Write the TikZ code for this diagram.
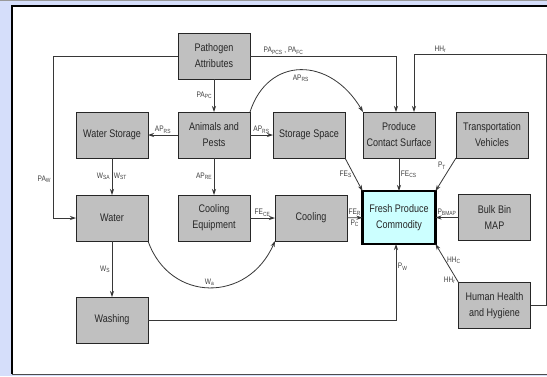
\documentclass[tikz,border=0pt]{standalone}
\usepackage{fontspec}
\setmainfont{Liberation Sans}[FakeStretch=0.82]
\usetikzlibrary{arrows.meta, positioning}
\definecolor{pagebg}{RGB}{213,222,250}
\definecolor{boxgray}{RGB}{192,192,192}
\definecolor{freshcyan}{RGB}{204,255,255}
\definecolor{linegray}{RGB}{55,55,55}

\begin{document}
\begin{tikzpicture}[x=1pt, y=-1pt, >={Stealth[length=6pt,width=4pt]}]
  \tikzstyle{block} = [rectangle, draw=black!85, fill=boxgray, minimum width=72pt, minimum height=46pt, inner sep=1pt, outer sep=0pt, align=center, font={\fontsize{11}{16}\selectfont}, text=black!85]
  \tikzstyle{target} = [block, fill=freshcyan, draw=black, line width=2.2pt, minimum width=73pt, minimum height=53pt]
  \tikzstyle{flow} = [->, draw=linegray, line width=0.8pt]
  \tikzstyle{lbl} = [font={\fontsize{8}{9}\selectfont}, text=black!75, inner sep=1.5pt]

  \useasboundingbox (0,0) rectangle (547,376);
  \fill[pagebg] (0,0) rectangle (547,376);
  \draw[black!40, line width=1pt] (0,0.5) -- (547,0.5);
  \fill[white] (12,6) rectangle (547,374);
  \draw[line width=2pt] (12,374) -- (12,6) -- (547,6);
  \draw[black!70, line width=1pt] (12,374) -- (547,374);

  \node[block] (animals) at (214,135) {Animals and\\Pests};
  \node[block, above=33pt of animals] (pathogen) {Pathogen\\Attributes};
  \node[block, left=30pt of animals] (wstore) {Water Storage};
  \node[block, right=23pt of animals] (storage) {Storage Space};
  \node[block, right=18pt of storage] (contact) {Produce\\Contact Surface};
  \node[block, right=21pt of contact] (vehicles) {Transportation\\Vehicles};

  \node[block, below=37pt of wstore] (water) {Water};
  \node[block, below=37pt of animals] (cooleq) {Cooling\\Equipment};
  \node[block, right=25pt of cooleq] (cooling) {Cooling};
  \node[target, below=33pt of contact] (fresh) {Fresh Produce\\Commodity};
  \node[block, right=23pt of fresh] (bulk) {Bulk Bin\\MAP};

  \node[block, below=56pt of water] (washing) {Washing};
  \node[block, below=42pt of bulk] (human) {Human Health\\and Hygiene};

  \coordinate (ltop) at (53,56);
  \coordinate (rtop) at (546,54);

  \draw[flow] (pathogen) -- node[lbl, left] {PA\textsubscript{PC}} (animals);
  \draw[flow] (pathogen.west) -- (ltop) |- node[lbl, left, pos=0.38] {PA\textsubscript{W}} (water.west);
  \draw[flow] (pathogen.east) -| node[lbl, above, pos=0.115] {PA\textsubscript{PCS} , PA\textsubscript{FC}} ([xshift=-3pt]contact.north);
  \draw[flow] (animals) -- node[lbl, above] {AP\textsubscript{RS}} (wstore);
  \draw[flow] (animals) -- node[lbl, above] {AP\textsubscript{RS}} (storage);
  \draw[flow] (animals) -- node[lbl, left] {AP\textsubscript{RE}} (cooleq);
  \draw[flow] (animals.north east) .. controls (268,56) and (330,56) .. node[lbl, below=3pt] {AP\textsubscript{RS}} (contact.north west);
  \draw[flow] (wstore) -- node[lbl, left] {W\textsubscript{SA}} node[lbl, right] {W\textsubscript{ST}} (water);
  \draw[flow] (cooleq) -- node[lbl, above] {FE\textsubscript{CE}} (cooling);
  \draw[flow] (cooling) -- node[lbl, above] {FE\textsubscript{R}} node[lbl, below] {P\textsubscript{C}} (fresh);
  \draw[flow] (storage.south east) -- node[lbl, left] {FE\textsubscript{S}} (fresh.north west);
  \draw[flow] (contact) -- node[lbl, right] {FE\textsubscript{CS}} (fresh);
  \draw[flow] (vehicles.south west) -- node[lbl, above left, pos=0.4] {P\textsubscript{T}} (fresh.north east);
  \draw[flow] (bulk) -- node[lbl, above] {P\textsubscript{BMAP}} (fresh);
  \draw[flow] (human.north west) -- node[lbl, right, pos=0.58] {HH\textsubscript{C}} node[lbl, left, pos=0.05] {HH\textsubscript{r}} (fresh.south east);
  \draw[flow] (human.east) -| (rtop) -| node[lbl, above, pos=0.4] {HH\textsubscript{r}} ([xshift=15pt]contact.north);
  \draw[flow] (water) -- node[lbl, left] {W\textsubscript{S}} (washing);
  \draw[flow] (water.south east) .. controls (170,303) and (248,303) .. node[lbl, above] {W\textsubscript{a}} (cooling.south west);
  \draw[flow] (washing) -| node[lbl, right, pos=0.85] {P\textsubscript{W}} ([xshift=-3pt]fresh.south);
\end{tikzpicture}
\end{document}
